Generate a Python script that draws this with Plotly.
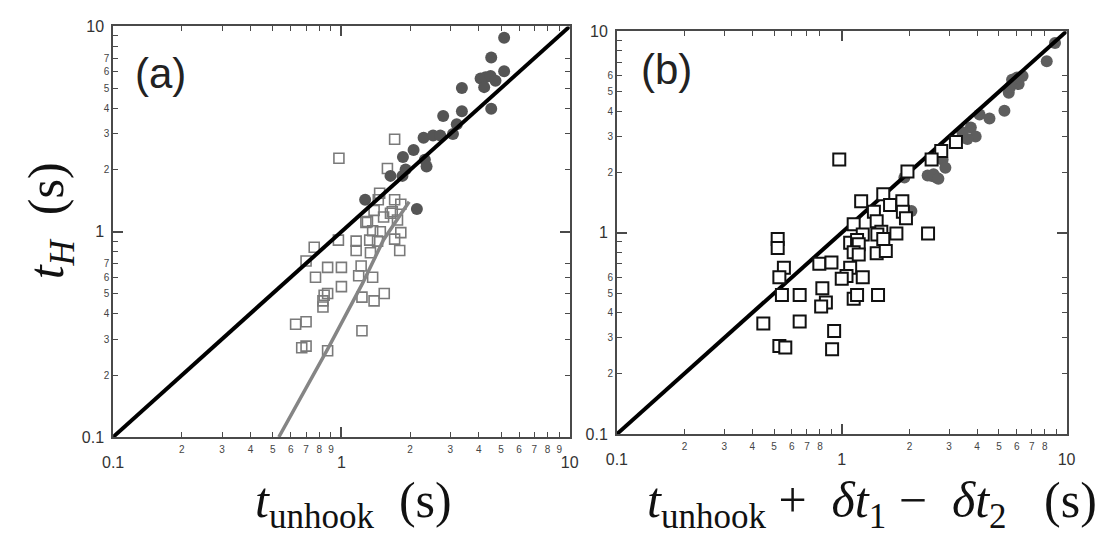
import plotly.graph_objects as go

W, H = 1109, 537

# ---------------- data: panel (a) ----------------
a_circ_x = [5.16, 4.53, 5.16, 4.07, 4.28, 4.50, 4.73, 4.22, 3.37, 4.53, 2.79, 3.37, 3.20,
            3.08, 2.29, 2.52, 2.71, 2.07, 1.86, 2.32, 2.36, 1.64, 1.85, 1.91, 1.27, 2.14]
a_circ_y = [8.80, 7.06, 6.05, 5.58, 5.65, 5.74, 5.44, 5.06, 5.01, 3.97, 3.66, 3.86, 3.34,
            2.99, 2.87, 2.94, 2.94, 2.50, 2.31, 2.24, 2.08, 1.87, 1.87, 2.01, 1.43, 1.29]

a_sq_x = [0.975, 1.71, 1.59, 1.47, 1.71, 1.82, 1.45, 1.67, 1.39, 1.53, 1.76, 1.64, 1.30,
          1.28, 1.48, 1.37, 1.82, 1.33, 1.44, 1.16, 1.16, 0.97, 1.71, 1.80, 1.34, 0.76,
          0.70, 0.87, 1.00, 0.77, 1.22, 1.19, 1.37, 1.00, 1.23, 1.39, 1.54, 0.84, 0.87,
          0.83, 0.83, 0.63, 0.70, 1.23, 0.67, 0.70, 0.87]
a_sq_y = [2.28, 2.82, 2.03, 1.54, 1.43, 1.36, 1.43, 1.25, 1.27, 1.18, 1.14, 1.23, 1.12,
          1.11, 1.00, 1.01, 0.99, 0.91, 0.90, 0.90, 0.81, 0.91, 0.92, 0.81, 0.79, 0.84,
          0.72, 0.67, 0.67, 0.60, 0.68, 0.61, 0.60, 0.54, 0.48, 0.46, 0.50, 0.49, 0.50,
          0.46, 0.43, 0.354, 0.364, 0.329, 0.272, 0.277, 0.263]

a_curve_x = [0.532, 0.87, 1.24, 1.53, 1.98]
a_curve_y = [0.100, 0.268, 0.563, 0.914, 1.40]

diag = [0.1, 10]

# ---------------- data: panel (b) ----------------
b_circ_x = [8.88, 8.16, 6.37, 6.12, 5.72, 5.53, 5.60, 6.02, 5.29, 4.10, 4.54, 3.75, 3.94,
            3.62, 3.44, 2.81, 2.89, 2.52, 2.63, 2.41, 1.90, 2.04, 2.56, 2.69]
b_circ_y = [8.75, 7.09, 6.00, 5.47, 5.74, 4.95, 5.27, 5.89, 4.03, 3.86, 3.69, 3.33, 3.00,
            2.92, 3.15, 2.30, 2.10, 1.91, 1.88, 1.92, 1.88, 1.28, 1.95, 1.85]

b_sq_x = [0.975, 3.22, 2.77, 2.51, 1.96, 1.53, 1.22, 1.86, 1.64, 1.39, 1.87, 1.93, 1.43,
          1.13, 1.24, 1.50, 1.75, 2.42, 1.44, 1.09, 1.17, 1.53, 1.19, 1.13, 1.19, 1.43,
          1.57, 0.519, 0.519, 0.553, 0.528, 0.542, 0.795, 0.90, 1.09, 1.05, 1.24, 1.00,
          0.65, 0.82, 0.85, 0.81, 1.13, 1.17, 1.45, 0.448, 0.65, 0.925, 0.528, 0.561, 0.906]
b_sq_y = [2.31, 2.82, 2.54, 2.31, 2.01, 1.55, 1.43, 1.43, 1.37, 1.27, 1.27, 1.18, 1.14,
          1.10, 0.98, 1.01, 0.99, 0.99, 0.98, 0.89, 0.92, 0.93, 0.875, 0.80, 0.78, 0.79,
          0.81, 0.93, 0.84, 0.67, 0.60, 0.49, 0.70, 0.71, 0.67, 0.61, 0.60, 0.59,
          0.49, 0.53, 0.45, 0.43, 0.47, 0.49, 0.49, 0.354, 0.362, 0.325, 0.274, 0.269, 0.264]

# ---------------- ticks ----------------
major_vals = [0.1, 1, 10]
major_text = ["0.1", "1", "10"]
minor_digits = [2, 3, 4, 5, 6, 7, 8, 9]

a_x_labelled = [2, 3, 4, 5, 6, 7, 8, 9]
a_y_labelled = [2, 3, 4, 5, 6, 7]
b_x_labelled = [2, 3, 4, 5, 6, 7, 8]
b_y_labelled = [2, 3, 4, 5, 6]


def labelled_vals(labelled):
    return [d * 10 ** e for e in (-1, 0) for d in minor_digits if d in labelled]


def labelled_text(labelled):
    return [str(d) for e in (-1, 0) for d in minor_digits if d in labelled]


def unlabelled_vals(labelled):
    return [d * 10 ** e for e in (-1, 0) for d in minor_digits if d not in labelled]


AX = "#4a4a4a"
SANS = "Liberation Sans"
SERIF = "Liberation Serif"


def main_axis(domain, anchor, labelled, standoff):
    return dict(type="log", range=[-1, 1], domain=domain, anchor=anchor,
                showgrid=False, zeroline=False, showline=True, linecolor=AX, linewidth=1.6,
                mirror="ticks", ticks="inside", ticklen=5, tickwidth=1.3, tickcolor=AX,
                tickmode="array", tickvals=labelled_vals(labelled),
                ticktext=labelled_text(labelled),
                tickfont=dict(family=SANS, size=10, color="#444"),
                ticklabelstandoff=standoff,
                minor=dict(tickmode="array", tickvals=major_vals, ticks="inside",
                           ticklen=10, tickwidth=1.6, tickcolor=AX),
                fixedrange=True)


def label_axis(overlay, anchor, side, standoff, labelled):
    return dict(type="log", range=[-1, 1], overlaying=overlay, anchor=anchor, side=side,
                showgrid=False, zeroline=False, showline=False, ticks="",
                mirror="ticks",
                tickmode="array", tickvals=major_vals, ticktext=major_text,
                tickfont=dict(family=SANS, size=16, color="#333"),
                ticklabelstandoff=standoff,
                minor=dict(tickmode="array", tickvals=unlabelled_vals(labelled),
                           ticks="inside", ticklen=5, tickwidth=1.3, tickcolor=AX),
                fixedrange=True)


xa_dom = [104 / W, 569 / W]
ya_dom = [(H - 443) / H, (H - 19) / H]
xb_dom = [617 / W, 1075 / W]
yb_dom = [(H - 440) / H, (H - 24) / H]

fig = go.Figure()

# panel (a)
fig.add_trace(go.Scatter(x=a_sq_x, y=a_sq_y, mode="markers", xaxis="x", yaxis="y",
                         marker=dict(symbol="square-open", size=10, color="#7a7a7a",
                                     line=dict(width=1.6, color="#7a7a7a")),
                         showlegend=False, hoverinfo="skip"))
fig.add_trace(go.Scatter(x=a_circ_x, y=a_circ_y, mode="markers", xaxis="x", yaxis="y",
                         marker=dict(symbol="circle", size=12, color="#555555"),
                         showlegend=False, hoverinfo="skip"))
fig.add_trace(go.Scatter(x=a_curve_x, y=a_curve_y, mode="lines", xaxis="x", yaxis="y",
                         line=dict(color="#858585", width=3.5),
                         showlegend=False, hoverinfo="skip"))
fig.add_trace(go.Scatter(x=diag, y=diag, mode="lines", xaxis="x", yaxis="y",
                         line=dict(color="black", width=4),
                         showlegend=False, hoverinfo="skip"))

# panel (b)
fig.add_trace(go.Scatter(x=b_circ_x, y=b_circ_y, mode="markers", xaxis="x2", yaxis="y2",
                         marker=dict(symbol="circle", size=12, color="#5e5e5e"),
                         showlegend=False, hoverinfo="skip"))
fig.add_trace(go.Scatter(x=diag, y=diag, mode="lines", xaxis="x2", yaxis="y2",
                         line=dict(color="black", width=4),
                         showlegend=False, hoverinfo="skip"))
fig.add_trace(go.Scatter(x=b_sq_x, y=b_sq_y, mode="markers", xaxis="x2", yaxis="y2",
                         marker=dict(symbol="square", size=12, color="white",
                                     line=dict(width=2, color="#111111")),
                         showlegend=False, hoverinfo="skip"))

# invisible anchors for the major-label axes
for xa, ya in (("x3", "y"), ("x", "y3"), ("x4", "y2"), ("x2", "y4")):
    fig.add_trace(go.Scatter(x=[1], y=[1], xaxis=xa, yaxis=ya, mode="markers",
                             marker=dict(opacity=0), showlegend=False, hoverinfo="skip"))

fig.update_layout(
    width=W, height=H, margin=dict(l=0, r=0, t=0, b=0),
    paper_bgcolor="white", plot_bgcolor="white",
    xaxis=main_axis(xa_dom, "y", a_x_labelled, 2),
    yaxis=main_axis(ya_dom, "x", a_y_labelled, 0),
    xaxis2=main_axis(xb_dom, "y2", b_x_labelled, 2),
    yaxis2=main_axis(yb_dom, "x2", b_y_labelled, 0),
    xaxis3=label_axis("x", "y", "bottom", 14, a_x_labelled),
    yaxis3=label_axis("y", "x", "left", 8, a_y_labelled),
    xaxis4=label_axis("x2", "y2", "bottom", 14, b_x_labelled),
    yaxis4=label_axis("y2", "x2", "left", 8, b_y_labelled),
)

sp = "\u00a0"
annotations = [
    dict(text="(a)", x=152 / W, y=(H - 68) / H, font=dict(family=SANS, size=42, color="#222")),
    dict(text="(b)", x=668 / W, y=(H - 64) / H, font=dict(family=SANS, size=42, color="#222")),
    dict(text="<i>t</i><sub>unhook</sub>" + sp * 2 + "(s)", x=349 / W, y=(H - 512) / H,
         font=dict(family=SERIF, size=50, color="#111")),
    dict(text="<i>t</i><sub><i>H</i></sub>" + sp * 2 + "(s)", x=40 / W, y=(H - 220) / H,
         textangle=-90, font=dict(family=SERIF, size=50, color="#111")),
    dict(text="<i>t</i><sub>unhook</sub>" + sp + "+" + sp * 2 + "<i>δt</i><sub>1</sub>"
              + sp + "−" + sp * 2 + "<i>δt</i><sub>2</sub>" + sp * 3 + "(s)",
         x=877 / W, y=(H - 512) / H, font=dict(family=SERIF, size=50, color="#111")),
]
for a in annotations:
    a.update(xref="paper", yref="paper", showarrow=False, xanchor="center", yanchor="middle")
fig.update_layout(annotations=annotations)

fig.write_html("out.html")
